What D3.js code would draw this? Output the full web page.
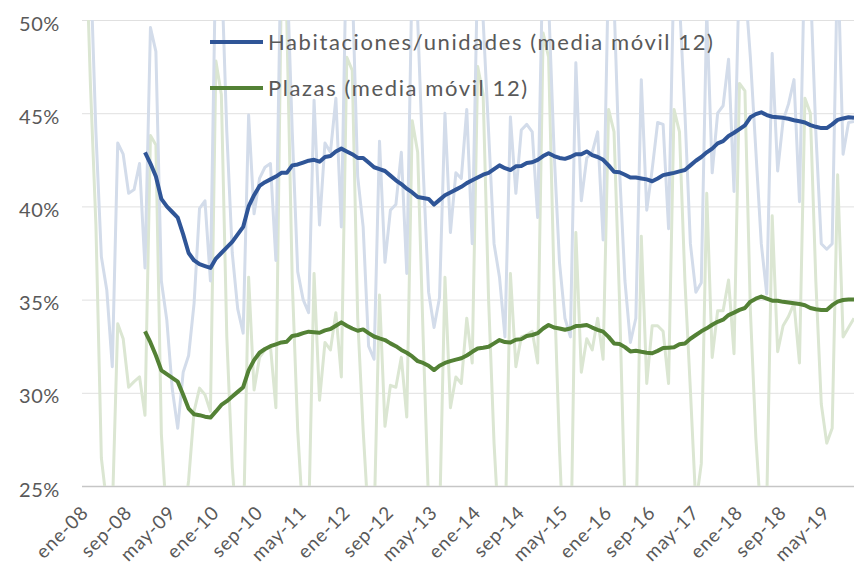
<!DOCTYPE html>
<html>
<head>
<meta charset="utf-8">
<script src="https://cdn.jsdelivr.net/npm/d3@7"></script>
<style>
  body { margin: 0; background: #fff; }
  svg text { font-family: Lato, "Open Sans", sans-serif; fill: #595959; }
</style>
</head>
<body>
<svg id="vis" width="854" height="564"></svg>
<script>
// months ene-08 .. oct-19
const mesAbr = ["ene", "feb", "mar", "abr", "may", "jun", "jul", "ago", "sep", "oct", "nov", "dic"];
const years = ["08", "09", "10", "11", "12", "13", "14", "15", "16", "17", "18", "19"];
const months = [];
years.forEach(y => mesAbr.forEach(m => months.push(m + "-" + y)));
months.splice(142); // last month shown: oct-19

const tickLabels = ["ene-08", "sep-08", "may-09", "ene-10", "sep-10", "may-11", "ene-12", "sep-12",
  "may-13", "ene-14", "sep-14", "may-15", "ene-16", "sep-16", "may-17", "ene-18", "sep-18", "may-19"];

const yTicks = [25, 30, 35, 40, 45, 50];

// monthly rates (%), one row per year
const habMensual = [
  56, 53, 44, 37.3, 35.5, 31.4, 43.4, 42.8, 40.7, 40.9, 42.3, 36.7,
  49.6, 48.3, 36.0, 33.9, 30.2, 28.1, 31.1, 32.0, 34.8, 39.9, 40.3, 36.0,
  54, 53, 44, 37.5, 34.5, 33.2, 44.9, 39.6, 41.5, 42.1, 42.3, 37.1,
  55, 53, 44, 36.5, 35.0, 34.3, 45.7, 39.0, 43.4, 42.9, 45.8, 38.9,
  55, 52, 41.6, 38.9, 32.5, 31.8, 43.5, 37.0, 39.8, 40.1, 42.9, 36.4,
  53, 50, 42.0, 35.4, 33.5, 35.1, 45.0, 38.6, 41.8, 41.5, 45.2, 38.0,
  53, 50, 44, 38, 36.2, 33.0, 44.8, 40.7, 44.1, 44.4, 44, 39.4,
  54, 51, 43, 37, 34, 33, 47.7, 40.3, 42.6, 42.9, 44, 38.2,
  53, 51, 42, 36, 32.7, 34, 46.8, 39.8, 42, 44.5, 44.4, 38.8,
  53, 51, 45, 38, 35.4, 35.9, 50.5, 41.8, 45.0, 45.4, 47.9, 40.8,
  53, 52, 48, 43, 38, 35.3, 48.2, 41.9, 44.6, 45.5, 46.8, 40.25,
  54, 52, 44, 38, 37.7, 38.0, 53.6, 42.8, 44.5, 44.55
];

const plazasMensual = [
  56, 46.5, 39, 26.5, 24, 23.5, 33.7, 32.9, 30.3, 30.6, 30.85, 28.8,
  43.8, 43.3, 27.8, 23, 22, 21, 23, 25.3, 29, 30.25, 29.9, 29.0,
  47.8, 46, 33, 26, 22, 22, 36.2, 30.15, 31.9, 32.3, 32.5, 29.2,
  52, 50, 36, 28, 23, 23, 36.4, 29.6, 32.7, 32.3, 34.3, 30.85,
  48.0, 47.3, 34, 28, 23, 23, 35.25, 28.2, 30.4, 30.3, 31.9, 28.7,
  44.6, 42.9, 33, 24, 22, 23, 36.2, 29.2, 30.85, 30.5, 34.0, 31.6,
  47.5, 46, 35, 27.3, 22, 22, 36.4, 31.4, 33.0, 33.1, 33.3, 31.6,
  49.3, 48, 36, 27, 20, 20, 38.6, 31.1, 32.9, 32.3, 34, 31.8,
  45.2, 44, 35, 24, 22, 22, 38.4, 30.5, 33.6, 33.6, 33.3, 30.5,
  45.2, 44, 36, 30.15, 24, 26.2, 40.7, 31.9, 34.4, 34.4, 36.05, 32.1,
  46.6, 46.2, 34.4, 27.6, 23, 24, 39.5, 32.2, 33.6, 34.1, 34.8, 31.6,
  45.8, 45.0, 36, 29.4, 27.3, 28.1, 41.7, 33.0, 33.5, 34.0
];

// moving averages (12 months), first value dic-08
const mediaStart = 11;
const habMedia = [
  42.9,
  42.3, 41.6, 40.4, 40.0, 39.7, 39.4, 38.5, 37.5, 37.1, 36.9, 36.8, 36.7,
  37.2, 37.5, 37.8, 38.1, 38.5, 38.9, 40.0, 40.6, 41.1, 41.3, 41.45, 41.6,
  41.8, 41.8, 42.2, 42.25, 42.35, 42.45, 42.5, 42.4, 42.65, 42.7, 42.95, 43.1,
  42.95, 42.8, 42.6, 42.6, 42.35, 42.1, 42.0, 41.9, 41.65, 41.4, 41.2, 40.95,
  40.75, 40.5, 40.45, 40.4, 40.1, 40.35, 40.6, 40.75, 40.9, 41.05, 41.25, 41.4,
  41.55, 41.7, 41.8, 42.0, 42.2, 42.05, 41.95, 42.15, 42.17, 42.33, 42.37, 42.5,
  42.7, 42.85, 42.7, 42.6, 42.55, 42.65, 42.8, 42.8, 42.95, 42.75, 42.65, 42.5,
  42.2, 41.86, 41.83, 41.7, 41.55, 41.55, 41.5, 41.45, 41.35, 41.5, 41.68, 41.74,
  41.8, 41.88, 41.95, 42.2, 42.45, 42.65, 42.9, 43.1, 43.38, 43.5, 43.78, 43.95,
  44.15, 44.35, 44.78, 44.95, 45.05, 44.9, 44.81, 44.78, 44.75, 44.7, 44.62, 44.57,
  44.5, 44.36, 44.27, 44.2, 44.2, 44.4, 44.64, 44.72, 44.78, 44.76
];

const plazasMedia = [
  33.3,
  32.7, 32.0, 31.2, 31.0, 30.8, 30.6, 29.9, 29.15, 28.85, 28.8, 28.72, 28.67,
  29.0, 29.35, 29.55, 29.8, 30.05, 30.3, 31.2, 31.75, 32.15, 32.35, 32.5, 32.6,
  32.7, 32.74, 33.05, 33.1, 33.2, 33.28, 33.25, 33.22, 33.35, 33.42, 33.6, 33.78,
  33.6, 33.45, 33.33, 33.4, 33.2, 33.02, 32.92, 32.83, 32.65, 32.5, 32.3, 32.15,
  31.95, 31.7, 31.6, 31.45, 31.22, 31.45, 31.6, 31.7, 31.78, 31.85, 32.0, 32.2,
  32.38, 32.42, 32.47, 32.65, 32.83, 32.72, 32.7, 32.85, 32.88, 33.05, 33.1, 33.2,
  33.45, 33.64, 33.5, 33.45, 33.38, 33.45, 33.58, 33.6, 33.64, 33.5, 33.38, 33.28,
  33.0, 32.65, 32.62, 32.45, 32.22, 32.26, 32.2, 32.15, 32.12, 32.25, 32.4, 32.42,
  32.44, 32.6, 32.65, 32.9, 33.1, 33.3, 33.46, 33.65, 33.81, 33.92, 34.17, 34.3,
  34.45, 34.55, 34.89, 35.05, 35.16, 35.05, 34.94, 34.94, 34.88, 34.84, 34.8, 34.76,
  34.7, 34.55, 34.48, 34.44, 34.44, 34.7, 34.89, 34.98, 35.0, 35.0
];

const series = [
  {name: "Plazas", values: plazasMensual, start: 0, color: "#dbe6d2", width: 3},
  {name: "Habitaciones", values: habMensual, start: 0, color: "#d3dcea", width: 3},
  {name: "Plazas (media móvil 12)", values: plazasMedia, start: mediaStart, color: "#538135", width: 4},
  {name: "Habitaciones/unidades (media móvil 12)", values: habMedia, start: mediaStart, color: "#2f5597", width: 4}
];

function drawChart() {
  const svg = d3.select("svg#vis");
  const plot = {left: 82, right: 854, top: 20, bottom: 486};

  const x = d3.scaleLinear().domain([0, months.length - 1]).range([85, 854]);
  const y = d3.scaleLinear().domain([25, 50]).range([plot.bottom, plot.top]);

  // clip monthly lines to the plot area
  svg.append("defs").append("clipPath").attr("id", "clip")
    .append("rect")
    .attr("x", plot.left)
    .attr("y", plot.top)
    .attr("width", plot.right - plot.left)
    .attr("height", plot.bottom - plot.top);

  // gridlines
  const yAxis = d3.axisLeft(y)
    .tickValues(yTicks)
    .tickSize(-(plot.right - plot.left))
    .tickFormat(d => d + "%");

  const gy = svg.append("g")
    .attr("transform", "translate(" + plot.left + ",0)")
    .call(yAxis);
  gy.select(".domain").remove();
  gy.selectAll(".tick line")
    .attr("stroke", d => d === 25 ? "#c6c6c6" : "#e0e0e0")
    .attr("stroke-width", d => d === 25 ? 1.5 : 1);
  gy.selectAll(".tick text")
    .attr("x", -22)
    .attr("dy", "0.5em")
    .style("font-size", "20px")
    .style("letter-spacing", "0.6px")
    .attr("text-anchor", "end");

  // x labels, rotated
  const xAxis = d3.axisBottom(x)
    .tickValues(tickLabels.map(t => months.indexOf(t)))
    .tickSize(0)
    .tickFormat(i => months[i]);

  const gx = svg.append("g")
    .attr("transform", "translate(0," + plot.bottom + ")")
    .call(xAxis);
  gx.select(".domain").remove();
  gx.selectAll(".tick text")
    .attr("text-anchor", "end")
    .attr("dy", 0)
    .attr("y", 0)
    .attr("transform", "translate(4,28) rotate(-45)")
    .style("font-size", "19px")
    .style("letter-spacing", "0.8px");

  // lines
  const lines = svg.append("g").attr("clip-path", "url(#clip)");
  series.forEach(function(s) {
    const line = d3.line()
      .x((d, i) => x(i + s.start))
      .y(d => y(d));

    lines.append("path")
      .datum(s.values)
      .attr("d", line)
      .attr("fill", "none")
      .attr("stroke", s.color)
      .attr("stroke-width", s.width)
      .attr("stroke-linejoin", "round");
  });

  // legend
  const legendItems = series.slice(2).reverse();
  const legend = svg.append("g");
  const item = legend.selectAll("g")
    .data(legendItems)
    .enter()
    .append("g")
    .attr("transform", (d, i) => "translate(210," + (42 + i * 46) + ")");

  item.append("line")
    .attr("x1", 0)
    .attr("x2", 53)
    .attr("stroke", d => d.color)
    .attr("stroke-width", 4);

  item.append("text")
    .attr("x", 58)
    .attr("dy", "0.36em")
    .style("font-size", "22px")
    .style("letter-spacing", "1.6px")
    .text(d => d.name);
}

drawChart();
</script>
</body>
</html>
